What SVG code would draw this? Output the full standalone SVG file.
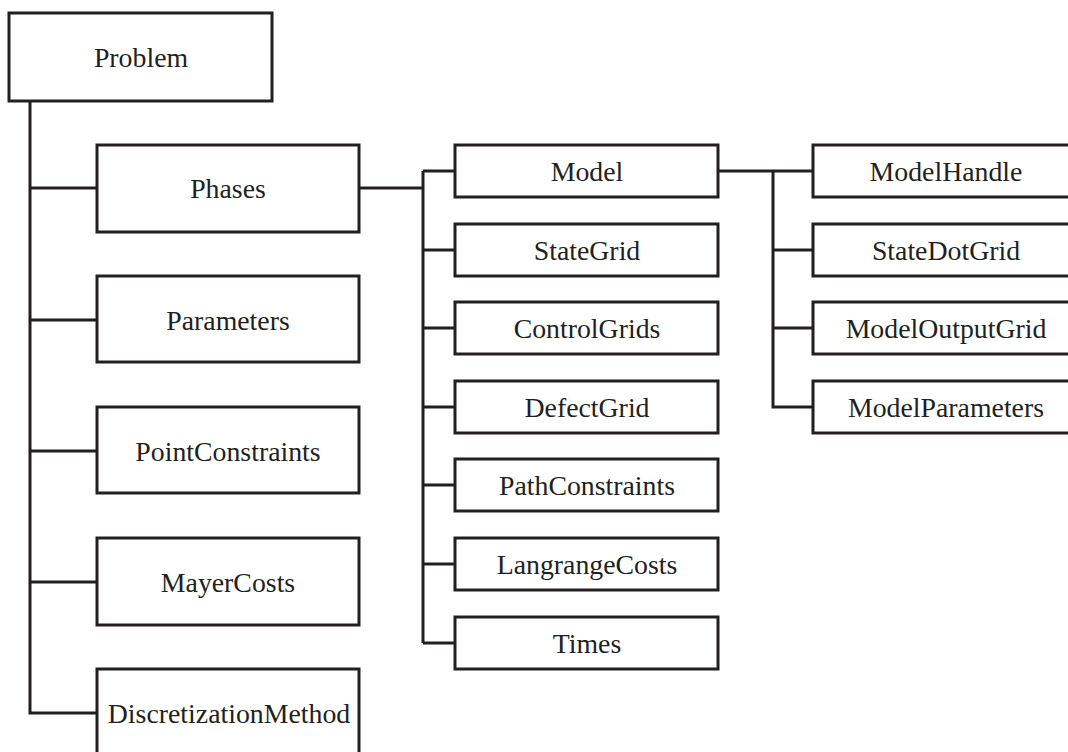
<svg xmlns="http://www.w3.org/2000/svg" width="1068" height="752" viewBox="0 0 1068 752">
<style>
.box{fill:#fff;stroke:#231f20;stroke-width:3}
.lbl{font-family:"Liberation Serif",serif;font-size:27.8px;fill:#231f20;text-anchor:middle;dominant-baseline:central}
.conn{fill:none;stroke:#231f20;stroke-width:3}
</style>
<rect width="1068" height="752" fill="#fff"/>
<g id="connectors" class="conn">
<path d="M30 101V713H97"/>
<path d="M30 188H97M30 320H97M30 451H97M30 582H97"/>
<path d="M359 188H423M423 171V643M423 171H455M423 250H455M423 328H455M423 407H455M423 485H455M423 564H455M423 643H455"/>
<path d="M718 171H813M773 171V407H813M773 250H813M773 328H813"/>
</g>
<g id="Problem"><rect class="box" x="9" y="13" width="263" height="88"/><text class="lbl" x="141" y="57">Problem</text></g>
<g id="Phases"><rect class="box" x="97" y="145" width="262" height="87"/><text class="lbl" x="228" y="188">Phases</text></g>
<g id="Parameters"><rect class="box" x="97" y="276" width="262" height="86"/><text class="lbl" x="228" y="320">Parameters</text></g>
<g id="PointConstraints"><rect class="box" x="97" y="407" width="262" height="86"/><text class="lbl" x="228" y="451">PointConstraints</text></g>
<g id="MayerCosts"><rect class="box" x="97" y="538" width="262" height="87"/><text class="lbl" x="228" y="582">MayerCosts</text></g>
<g id="DiscretizationMethod"><rect class="box" x="97" y="669" width="262" height="90"/><text class="lbl" x="229" y="713">DiscretizationMethod</text></g>
<g id="Model"><rect class="box" x="455" y="145" width="263" height="52"/><text class="lbl" x="587" y="171">Model</text></g>
<g id="StateGrid"><rect class="box" x="455" y="224" width="263" height="52"/><text class="lbl" x="587" y="250">StateGrid</text></g>
<g id="ControlGrids"><rect class="box" x="455" y="302" width="263" height="52"/><text class="lbl" x="587" y="328">ControlGrids</text></g>
<g id="DefectGrid"><rect class="box" x="455" y="381" width="263" height="52"/><text class="lbl" x="587" y="407">DefectGrid</text></g>
<g id="PathConstraints"><rect class="box" x="455" y="459" width="263" height="52"/><text class="lbl" x="587" y="485">PathConstraints</text></g>
<g id="LangrangeCosts"><rect class="box" x="455" y="538" width="263" height="52"/><text class="lbl" x="587" y="564">LangrangeCosts</text></g>
<g id="Times"><rect class="box" x="455" y="617" width="263" height="52"/><text class="lbl" x="587" y="643">Times</text></g>
<g id="ModelHandle"><rect class="box" x="813" y="145" width="265" height="52"/><text class="lbl" x="946" y="171">ModelHandle</text></g>
<g id="StateDotGrid"><rect class="box" x="813" y="224" width="265" height="52"/><text class="lbl" x="946" y="250">StateDotGrid</text></g>
<g id="ModelOutputGrid"><rect class="box" x="813" y="302" width="265" height="52"/><text class="lbl" x="946" y="328">ModelOutputGrid</text></g>
<g id="ModelParameters"><rect class="box" x="813" y="381" width="265" height="52"/><text class="lbl" x="946" y="407">ModelParameters</text></g>
</svg>
